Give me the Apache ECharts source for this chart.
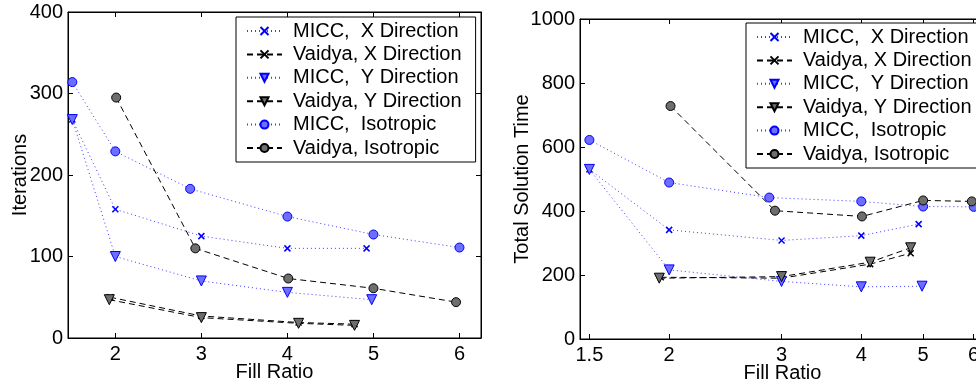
<!DOCTYPE html>
<html>
<head>
    <meta charset="utf-8"/>
    <title>Fill Ratio</title>
    <script src="https://cdn.jsdelivr.net/npm/echarts@6/dist/echarts.min.js"></script>
    <style>
        html, body { margin: 0; padding: 0; background: #fff; }
        #main { width: 976px; height: 386px; }
    </style>
</head>
<body>
<div id="main"></div>
<script type="text/javascript">
    // x positions (fill ratio) of each series
    var xMiccX = [1.5, 2, 3, 4, 4.92];
    var xVaidyaX = [1.94, 3.0, 4.13, 4.78];
    var xMiccY = [1.5, 2, 3, 4, 4.98];
    var xVaidyaY = [1.93, 3.0, 4.13, 4.78];
    var xMiccIso = [1.5, 2, 2.87, 4, 5, 6];
    var xVaidyaIso = [2.01, 2.93, 4.01, 5.0, 5.96];

    // left chart: iterations
    var iterMiccX = [268, 158, 125, 110, 110];
    var iterVaidyaX = [50, 27, 19, 17];
    var iterMiccY = [268, 100, 70, 56, 47];
    var iterVaidyaY = [47, 25, 18, 15.5];
    var iterMiccIso = [314, 229, 183, 149, 127, 111];
    var iterVaidyaIso = [295, 110, 73, 61, 44];

    // right chart: total solution time
    var timeMiccX = [530, 341, 308, 323, 359];
    var timeVaidyaX = [193, 190, 234, 268];
    var timeMiccY = [530, 216, 180, 163, 165];
    var timeVaidyaY = [190, 195, 240, 285];
    var timeMiccIso = [622, 489, 442, 430, 414, 413];
    var timeVaidyaIso = [728, 401, 383, 433, 430];

    var xTicks = [2, 3, 4, 5, 6];
    var xTicksLog = [1.5, 2, 3, 4, 5, 6];

    var names = ['MICC,  X Direction', 'Vaidya, X Direction', 'MICC,  Y Direction',
        'Vaidya, Y Direction', 'MICC,  Isotropic', 'Vaidya, Isotropic'];

    var FONT = 'Liberation Sans';
    var FS = 20;
    var crossPath = 'path://M0,0L10,10M10,0L0,10';

    // style of each line: marker, fill, edge, line style
    var styles = [
        {symbol: crossPath, size: 6, fill: '#0000ff', edge: '#0000ff', bw: 1.5, line: '#3b3bff', dash: [1, 3], rot: 0},
        {symbol: crossPath, size: 6, fill: '#000', edge: '#000', bw: 1.5, line: '#000', dash: [6, 4], rot: 0},
        {symbol: 'triangle', size: 10, fill: '#6d6dff', edge: '#0000ff', bw: 1, line: '#3b3bff', dash: [1, 3], rot: 180},
        {symbol: 'triangle', size: 10, fill: '#6e6e6e', edge: '#000', bw: 1, line: '#000', dash: [6, 4], rot: 180},
        {symbol: 'circle', size: 9, fill: '#6d6dff', edge: '#0000ff', bw: 1, line: '#3b3bff', dash: [1, 3], rot: 0},
        {symbol: 'circle', size: 9, fill: '#6e6e6e', edge: '#000', bw: 1, line: '#000', dash: [6, 4], rot: 0}
    ];

    function pairs(xs, ys) {
        return xs.map(function (x, i) { return [x, ys[i]]; });
    }

    function makeSeries(idx, xs, ys, axisIdx) {
        var s = styles[idx];
        return {
            name: names[idx],
            type: 'line',
            xAxisIndex: axisIdx,
            yAxisIndex: axisIdx,
            data: pairs(xs, ys),
            symbol: s.symbol,
            symbolSize: s.size,
            symbolRotate: s.rot,
            showAllSymbol: true,
            lineStyle: {color: s.line, width: 1, type: s.dash},
            itemStyle: {color: s.fill, borderColor: s.edge, borderWidth: s.bw},
            emphasis: {disabled: true},
            z: 3 + idx
        };
    }

    function boxAxis(gridIndex, pos, type, min, max, ticks, showLabels, interval) {
        var ax = {
            type: type,
            gridIndex: gridIndex,
            position: pos,
            min: min,
            max: max,
            splitLine: {show: false},
            axisLine: {show: true, onZero: false, lineStyle: {color: '#000', width: 1}},
            axisTick: {show: true, inside: true, length: 5, lineStyle: {color: '#000'}},
            axisLabel: {
                show: showLabels, color: '#000', fontSize: FS, fontFamily: FONT, margin: 6,
                formatter: function (v) { return String(v); }
            }
        };
        if (ticks) {
            ax.axisTick.customValues = ticks;
            ax.axisLabel.customValues = ticks;
        }
        if (interval) ax.interval = interval;
        return ax;
    }

    var myChart = echarts.init(document.getElementById('main'));

    var xAxes = [
        boxAxis(0, 'bottom', 'value', 1.45, 6.25, xTicks, true),
        boxAxis(0, 'top', 'value', 1.45, 6.25, xTicks, false),
        boxAxis(1, 'bottom', 'log', 1.45, 6.25, xTicksLog, true),
        boxAxis(1, 'top', 'log', 1.45, 6.25, xTicksLog, false)
    ];
    xAxes[0].name = 'Fill Ratio';
    xAxes[2].name = 'Fill Ratio';

    var yAxes = [
        boxAxis(0, 'left', 'value', 0, 400, null, true, 100),
        boxAxis(0, 'right', 'value', 0, 400, null, false, 100),
        boxAxis(1, 'left', 'value', 0, 1000, null, true, 200),
        boxAxis(1, 'right', 'value', 0, 1000, null, false, 200)
    ];
    yAxes[0].name = 'Iterations';
    yAxes[2].name = 'Total Solution Time';
    yAxes[0].axisLabel.margin = 5;
    yAxes[2].axisLabel.margin = 5;

    [xAxes[0], xAxes[2], yAxes[0], yAxes[2]].forEach(function (ax, i) {
        ax.nameLocation = 'middle';
        ax.nameMoveOverlap = false;
        ax.nameTextStyle = {color: '#000', fontSize: FS, fontFamily: FONT};
        ax.nameGap = i < 2 ? 24 : (i === 2 ? 38 : 48);
    });

    var legendBase = {
        orient: 'vertical',
        data: names,
        backgroundColor: '#fff',
        borderColor: '#000',
        borderWidth: 1,
        padding: [4, 14, 4, 10],
        itemWidth: 35,
        itemHeight: 10,
        itemGap: 3.4,
        selectedMode: false,
        textStyle: {color: '#000', fontSize: FS, fontFamily: FONT, padding: [0, 0, 0, 6]}
    };

    var option = {
        animation: false,
        backgroundColor: '#fff',
        grid: [
            {left: 68, top: 12, right: 495, bottom: 48, show: true, borderColor: '#000', borderWidth: 1,
                containLabel: false, outerBoundsMode: 'none'},
            {left: 580, top: 19, right: -9, bottom: 47, show: true, borderColor: '#000', borderWidth: 1,
                containLabel: false, outerBoundsMode: 'none'}
        ],
        legend: [
            Object.assign({}, legendBase, {left: 236, top: 17}),
            Object.assign({}, legendBase, {left: 746, top: 23})
        ],
        xAxis: xAxes,
        yAxis: yAxes,
        series: [
            makeSeries(0, xMiccX, iterMiccX, 0),
            makeSeries(1, xVaidyaX, iterVaidyaX, 0),
            makeSeries(2, xMiccY, iterMiccY, 0),
            makeSeries(3, xVaidyaY, iterVaidyaY, 0),
            makeSeries(4, xMiccIso, iterMiccIso, 0),
            makeSeries(5, xVaidyaIso, iterVaidyaIso, 0),
            // right chart: log x axis
            makeSeries(0, xMiccX, timeMiccX, 2),
            makeSeries(1, xVaidyaX, timeVaidyaX, 2),
            makeSeries(2, xMiccY, timeMiccY, 2),
            makeSeries(3, xVaidyaY, timeVaidyaY, 2),
            makeSeries(4, xMiccIso, timeMiccIso, 2),
            makeSeries(5, xVaidyaIso, timeVaidyaIso, 2)
        ]
    };
    myChart.setOption(option);
</script>
</body>
</html>
